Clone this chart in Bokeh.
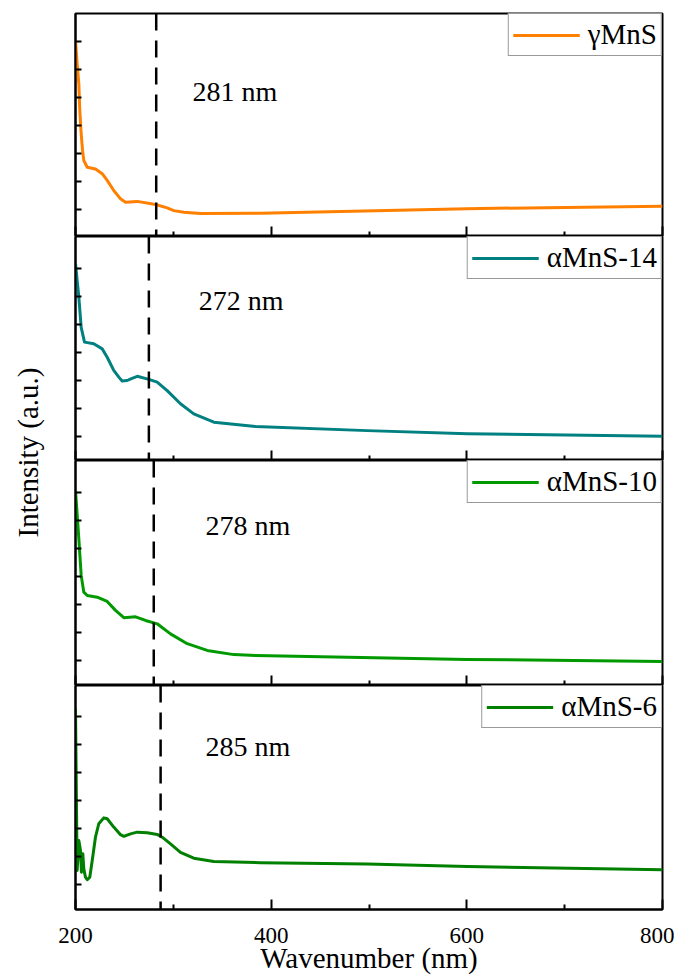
from bokeh.plotting import figure
from bokeh.layouts import row, column
from bokeh.models import FixedTicker, Span, Label, Range1d
from bokeh.embed import file_html
from bokeh.resources import INLINE

FONT = "Liberation Serif"

# ---- data (wavelength in nm, intensity in a.u.) ----
wl_gamma = [200, 201.7, 203.4, 204.4, 205.8, 207.2, 208.5, 212, 220.4, 227.3, 232.4, 239.1,
            246, 251.1, 263.1, 281.8, 293.7, 300.5, 310.7, 327.8, 389.1, 600, 800]
int_gamma = [7.04, 6.20, 5.49, 4.54, 3.71, 3.11, 2.75, 2.51, 2.45, 2.28, 2.04, 1.68,
             1.38, 1.26, 1.29, 1.18, 1.06, 0.96, 0.90, 0.86, 0.87, 1.03, 1.12]

wl_a14 = [200, 203.4, 205.8, 209.2, 218.7, 227.3, 232.4, 239.1, 244.3, 247.7, 252.8,
          257.2, 263.1, 274.9, 283.5, 293.7, 307.3, 320.9, 341.4, 384, 498.2, 600.4, 800]
int_a14 = [7.17, 5.98, 4.90, 4.37, 4.31, 4.13, 3.83, 3.36, 3.12, 2.98, 3.00,
           3.07, 3.15, 3.04, 2.94, 2.64, 2.17, 1.81, 1.51, 1.36, 1.21, 1.10, 1.01]

wl_a10 = [200, 203.4, 205.8, 208.5, 212, 222.2, 232.4, 240.9, 249.4, 261.4, 271.6,
          283.5, 297.1, 314.2, 334.6, 361.8, 384, 600, 800]
int_a10 = [7.07, 5.35, 4.04, 3.44, 3.32, 3.26, 3.11, 2.79, 2.53, 2.56, 2.43,
           2.31, 1.95, 1.60, 1.36, 1.21, 1.18, 1.04, 0.96]

wl_a6 = [200, 201.7, 203.4, 205.1, 206.1, 207.5, 208.5, 210.2, 212, 214.6, 217.1,
         220.4, 223.8, 228.9, 232.4, 239.1, 246, 249.4, 256.2, 263.1, 273.3, 283.5,
         288.6, 297.1, 307.3, 320.9, 341.4, 389.1, 498.2, 600.4, 800]
int_a6 = [7.29, 1.51, 2.58, 2.23, 1.45, 2.11, 1.57, 1.27, 1.18, 1.27, 1.87,
          2.70, 3.18, 3.39, 3.36, 3.06, 2.79, 2.73, 2.82, 2.88, 2.86, 2.80,
          2.70, 2.46, 2.16, 1.95, 1.83, 1.79, 1.74, 1.65, 1.54]

names = ["γMnS", "αMnS-14", "αMnS-10", "αMnS-6"]
colors = ["#FF8000", "#008080", "#009A00", "#008000"]
peak_labels = ["281 nm", "272 nm", "278 nm", "285 nm"]
peak_pos = [282.5, 275, 280, 287]

x_major = [200, 400, 600, 800]
x_minor = [300, 500, 700]
y_ticks = [1, 2, 3, 4, 5, 6, 7]

series = [(wl_gamma, int_gamma), (wl_a14, int_a14), (wl_a10, int_a10), (wl_a6, int_a6)]
y_ranges = [(0.036, 8.0), (0.143, 8.143), (0.107, 8.143), (0.118, 8.118)]
label_pos = [(319.6, 5.21), (326.0, 5.86), (332.9, 5.82), (332.9, 5.95)]
frame_h = [223, 224, 225, 224]

LEFT_W = 53
BORDER_L = 22
FRAME_W = 587
BORDER_R = 12
TOP = 13
BOTTOM = 68

panels = []
for i in range(4):
    top = TOP if i == 0 else 0
    bottom = BOTTOM if i == 3 else 0
    p = figure(width=BORDER_L + FRAME_W + BORDER_R, height=frame_h[i] + top + bottom,
               x_range=Range1d(200, 800), y_range=Range1d(*y_ranges[i]),
               min_border_left=BORDER_L, min_border_right=BORDER_R,
               min_border_top=top, min_border_bottom=bottom,
               toolbar_location=None, output_backend="svg")
    p.grid.visible = False
    p.outline_line_color = "black"
    p.outline_line_width = 2
    p.background_fill_color = "white"
    p.border_fill_color = "white"

    xs, ys = series[i]
    p.line(xs, ys, line_color=colors[i], line_width=3, line_join="round",
           legend_label=names[i])

    p.add_layout(Span(location=peak_pos[i], dimension="height", line_color="black",
                      line_width=2.5, line_dash="17 10"))
    p.add_layout(Label(x=label_pos[i][0], y=label_pos[i][1], text=peak_labels[i],
                       text_font=FONT, text_font_size="28px", text_color="black",
                       text_baseline="alphabetic"))

    xa = p.xaxis[0]
    xa.ticker = FixedTicker(ticks=x_major, minor_ticks=x_minor)
    xa.major_tick_in = 10
    xa.major_tick_out = 0
    xa.minor_tick_in = 5
    xa.minor_tick_out = 0
    xa.major_tick_line_width = 2
    xa.minor_tick_line_width = 2
    xa.major_tick_line_color = "black"
    xa.minor_tick_line_color = "black"
    xa.axis_line_width = 2
    xa.axis_line_color = "black"
    if i < 3:
        xa.major_label_text_font_size = "0px"
        xa.major_label_text_color = None
        xa.major_label_standoff = 0
    else:
        xa.major_label_text_font = FONT
        xa.major_label_text_font_size = "23px"
        xa.major_label_text_color = "black"
        xa.major_label_standoff = 18
        xa.axis_label = "Wavenumber (nm)"
        xa.axis_label_text_font = FONT
        xa.axis_label_text_font_size = "29px"
        xa.axis_label_text_font_style = "normal"
        xa.axis_label_text_color = "black"
        xa.axis_label_standoff = -4

    ya = p.yaxis[0]
    ya.ticker = FixedTicker(ticks=y_ticks, minor_ticks=[])
    ya.major_tick_in = 6
    ya.major_tick_out = 0
    ya.minor_tick_line_color = None
    ya.major_tick_line_width = 2
    ya.major_tick_line_color = "black"
    ya.axis_line_width = 2
    ya.axis_line_color = "black"
    ya.major_label_text_font_size = "0px"
    ya.major_label_text_color = None
    ya.major_label_standoff = 0

    lg = p.legend[0]
    lg.location = "top_right"
    lg.margin = 0
    lg.padding = 4
    lg.spacing = 0
    lg.glyph_width = 67
    lg.glyph_height = 20
    lg.label_standoff = 8
    lg.label_text_font = FONT
    lg.label_text_font_size = "29px"
    lg.label_text_color = "black"
    lg.border_line_color = "#333333"
    lg.border_line_width = 1
    lg.background_fill_color = "white"
    lg.background_fill_alpha = 1.0
    panels.append(p)

total_h = sum(frame_h) + TOP + BOTTOM
left = figure(width=LEFT_W, height=total_h, x_range=Range1d(0, 1), y_range=Range1d(0, 1),
              min_border=0, toolbar_location=None, output_backend="svg")
left.axis.visible = False
left.grid.visible = False
left.outline_line_color = None
left.add_layout(Label(x=27.5 / LEFT_W, y=(total_h - 452) / total_h, text="Intensity (a.u.)",
                      angle=1.5707963, text_align="center", text_baseline="middle",
                      text_font=FONT, text_font_size="29px", text_color="black"))

layout = row(left, column(*panels, spacing=0), spacing=0)

open("out.html", "w").write(file_html(layout, INLINE))
